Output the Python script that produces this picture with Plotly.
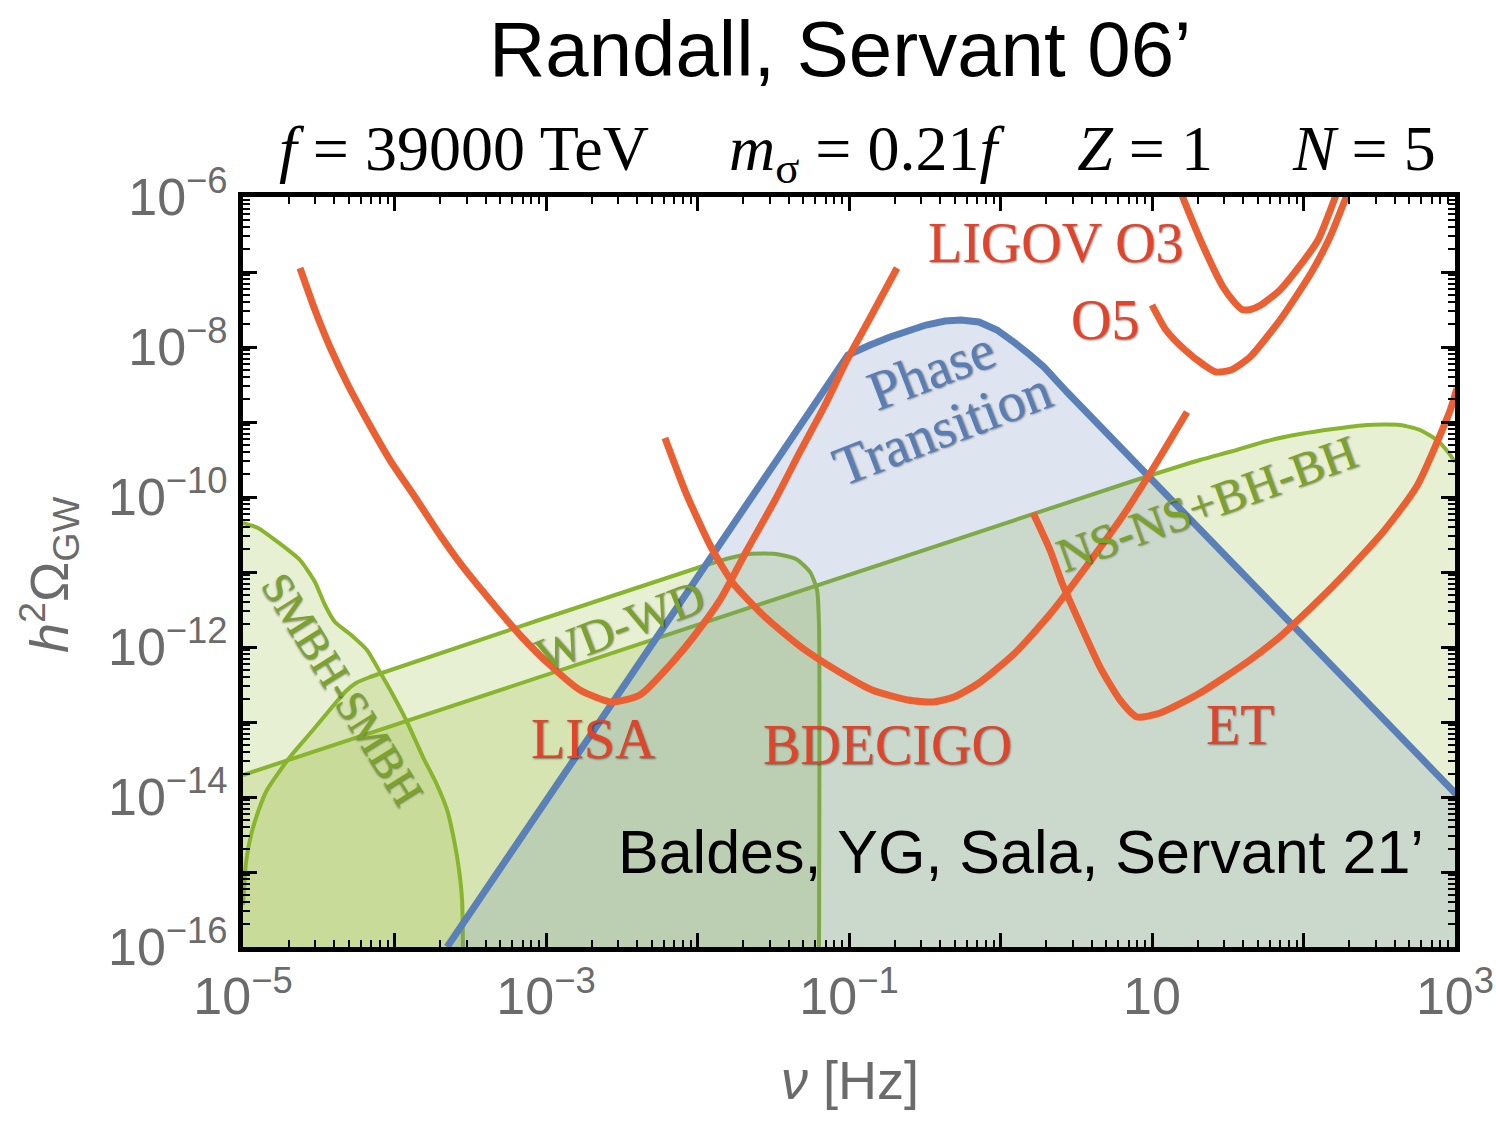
import numpy as np
import plotly.graph_objects as go

# ---------------------------------------------------------------------------
# Curves, given as log10(frequency / Hz) and log10(h^2 Omega_GW)
# ---------------------------------------------------------------------------

# Detector power-law sensitivity curves
lisa_log10_f = [-4.624, -4.525, -4.426, -4.307, -4.175, -4.030, -3.865, -3.700,
                -3.548, -3.370, -3.172, -2.974, -2.776, -2.564, -2.380, -2.182,
                -2.017, -1.851, -1.673, -1.488, -1.317, -1.158, -1.013, -0.861, -0.683]
lisa_log10_omega = [-6.947, -7.507, -8.0, -8.507, -9.0, -9.507, -10.0, -10.507,
                    -10.933, -11.373, -11.84, -12.24, -12.573, -12.733, -12.64, -12.24,
                    -11.84, -11.373, -10.707, -10.04, -9.373, -8.773, -8.173, -7.613, -6.947]

bdecigo_log10_f = [-2.215, -2.076, -1.911, -1.766, -1.554, -1.317, -1.086, -0.848,
                   -0.611, -0.446, -0.307, -0.142, 0.096, 0.333, 0.564, 0.802,
                   1.013, 1.231]
bdecigo_log10_omega = [-9.213, -9.947, -10.667, -11.147, -11.60, -12.0, -12.307, -12.573,
                       -12.707, -12.733, -12.667, -12.48, -12.08, -11.547, -10.933, -10.267,
                       -9.60, -8.867]

et_log10_f = [0.215, 0.327, 0.406, 0.505, 0.657, 0.789, 0.901, 1.053, 1.317,
              1.647, 1.865, 2.195, 2.525, 2.749, 2.967, 3.013]
et_log10_omega = [-10.213, -10.707, -11.147, -11.60, -12.267, -12.707, -12.933, -12.88, -12.613,
                  -12.173, -11.827, -11.187, -10.467, -9.853, -8.85, -8.55]

ligo_o3_log10_f = [1.185, 1.218, 1.343, 1.469, 1.548, 1.594, 1.650, 1.719, 1.845,
                   1.970, 2.096, 2.195, 2.241]
ligo_o3_log10_omega = [-5.907, -6.08, -6.68, -7.20, -7.413, -7.50, -7.50, -7.44, -7.24,
                       -6.933, -6.573, -6.08, -5.84]

ligo_o5_log10_f = [1.0, 1.092, 1.218, 1.343, 1.422, 1.521, 1.647, 1.845, 2.050,
                   2.175, 2.274, 2.294]
ligo_o5_log10_omega = [-7.44, -7.773, -8.04, -8.24, -8.333, -8.307, -8.133, -7.64, -7.013,
                       -6.533, -6.04, -5.947]

# Phase-transition signal
pt_log10_f = [-3.653, -1.007, -0.861, -0.729, -0.492, -0.366, -0.261, -0.142, -0.023,
              0.036, 0.096, 0.195, 0.287, 0.439, 3.013]
pt_log10_omega = [-16.0, -8.107, -7.973, -7.867, -7.707, -7.653, -7.64, -7.667, -7.773,
                  -7.853, -7.947, -8.107, -8.267, -8.60, -13.973]

# Astrophysical foregrounds (upper boundaries of the shaded regions)
ns_log10_f = [-5.0, 0.875, 1.317, 1.535, 1.759, 1.977, 2.195, 2.419, 2.637,
              2.769, 2.881, 2.954, 3.0]
ns_log10_omega = [-13.707, -9.787, -9.507, -9.387, -9.253, -9.16, -9.093, -9.04, -9.04,
                  -9.107, -9.24, -9.40, -9.533]

wd_log10_f = [-5.0, -4.98, -4.947, -4.901, -4.842, -4.690, -4.538, -4.406, -4.320,
              -4.254, -4.162, -1.983, -1.785, -1.653, -1.482, -1.350, -1.257,
              -1.211, -1.198, -1.198]
wd_log10_omega = [-15.44, -14.867, -14.507, -14.20, -13.907, -13.467, -13.107, -12.787, -12.587,
                  -12.48, -12.40, -10.933, -10.813, -10.76, -10.76, -10.827, -11.0,
                  -11.24, -11.707, -16.0]

smbh_log10_f = [-5.0, -4.901, -4.789, -4.624, -4.525, -4.459, -4.393, -4.294, -4.182,
                -4.096, -4.010, -3.917, -3.812, -3.719, -3.653, -3.607, -3.574,
                -3.554, -3.548]
smbh_log10_omega = [-10.347, -10.413, -10.573, -10.84, -11.133, -11.44, -11.667, -11.827, -12.04,
                    -12.333, -12.64, -13.0, -13.467, -13.84, -14.173, -14.573, -14.973,
                    -15.373, -16.0]

# Axis decades: labelled ones and the unlabelled ones in between
x_label_decades = [-5, -3, -1, 1, 3]
x_ticktext = ["10<sup>\u22125</sup>", "10<sup>\u22123</sup>", "10<sup>\u22121</sup>",
              "10", "10<sup>3</sup>"]
x_other_decades = [-4, -2, 0, 2]
y_label_decades = [-16, -14, -12, -10, -8, -6]
y_ticktext = ["10<sup>\u221216</sup>", "10<sup>\u221214</sup>", "10<sup>\u221212</sup>",
              "10<sup>\u221210</sup>", "10<sup>\u22128</sup>", "10<sup>\u22126</sup>"]
y_other_decades = [-15, -13, -11, -9, -7]

# ---------------------------------------------------------------------------
ORANGE = "#eb6032"
BLUE = "#5b80b8"
GREEN = "#89b42e"
GREEN_FILL = "rgba(150,185,60,0.22)"
BLUE_FILL = "rgba(90,125,180,0.20)"
FLOOR = 1e-18
SERIF = "Liberation Serif, Times New Roman, serif"
SANS = "Liberation Sans, Arial, sans-serif"
X_RANGE = [-5, 3]
Y_RANGE = [-16, -6]


def to_lin(vals):
    return [10.0 ** v for v in vals]


fig = go.Figure()


def add_region(logf, logo, fillcolor, shape):
    x = to_lin(logf)
    y = to_lin(logo)
    # shaded area down to the bottom of the frame
    fig.add_trace(go.Scatter(
        x=x + [x[-1], x[0]], y=y + [FLOOR, FLOOR],
        mode="lines", fill="toself", fillcolor=fillcolor,
        line=dict(width=0, shape=shape), hoverinfo="skip", showlegend=False))
    return x, y


def add_line(x, y, color, width, shape="spline", smoothing=1.0):
    line = dict(color=color, width=width, shape=shape)
    if shape == "spline":
        line["smoothing"] = smoothing
    fig.add_trace(go.Scatter(x=x, y=y, mode="lines", line=line,
                             hoverinfo="skip", showlegend=False))


# foreground regions
regions = []
for lf, lo in [(ns_log10_f, ns_log10_omega),
               (wd_log10_f, wd_log10_omega),
               (smbh_log10_f, smbh_log10_omega)]:
    regions.append(add_region(lf, lo, GREEN_FILL, "spline"))
for x, y in regions:
    add_line(x, y, GREEN, 4, "spline", 0.6)

# phase-transition signal
pt_x, pt_y = add_region(pt_log10_f, pt_log10_omega, BLUE_FILL, "linear")
add_line(pt_x, pt_y, BLUE, 7, "linear")

# detector curves
for lf, lo in [(lisa_log10_f, lisa_log10_omega),
               (bdecigo_log10_f, bdecigo_log10_omega),
               (et_log10_f, et_log10_omega),
               (ligo_o3_log10_f, ligo_o3_log10_omega),
               (ligo_o5_log10_f, ligo_o5_log10_omega)]:
    add_line(to_lin(lf), to_lin(lo), ORANGE, 7, "spline", 0.6)

# empty trace that carries the secondary (unlabelled decade) axes
fig.add_trace(go.Scatter(x=[], y=[], xaxis="x2", yaxis="y2", mode="lines",
                         hoverinfo="skip", showlegend=False))

# ---------------------------------------------------------------------------
shadow_dark = "1px 1px 2px rgba(0,0,0,0.45)"


def label(text, x, y, size, color, angle=0, family=SERIF, shadow="none"):
    fig.add_annotation(text=text, x=x, y=y, xref="paper", yref="paper",
                       xanchor="center", yanchor="middle", showarrow=False,
                       textangle=angle,
                       font=dict(family=family, size=size, color=color, shadow=shadow))


RED_TXT = "#e0442a"
label("LIGOV O3", 0.671, 0.939, 56, RED_TXT, shadow=shadow_dark)
label("O5", 0.711, 0.836, 56, RED_TXT, shadow=shadow_dark)
label("LISA", 0.289, 0.277, 56, RED_TXT, shadow=shadow_dark)
label("BDECIGO", 0.532, 0.269, 56, RED_TXT, shadow=shadow_dark)
label("ET", 0.823, 0.296, 56, RED_TXT, shadow=shadow_dark)

BLUE_TXT = "#5a7db4"
label("Phase", 0.568, 0.769, 56, BLUE_TXT, angle=-21, shadow=shadow_dark)
label("Transition", 0.577, 0.692, 56, BLUE_TXT, angle=-21, shadow=shadow_dark)

GREEN_TXT = "#7ba22c"
label("WD-WD", 0.311, 0.429, 48, GREEN_TXT, angle=-21, shadow=shadow_dark)
label("NS-NS+BH-BH", 0.795, 0.592, 48, GREEN_TXT, angle=-20, shadow=shadow_dark)
label("SMBH-SMBH", 0.082, 0.343, 44, GREEN_TXT, angle=58, shadow=shadow_dark)

label("Baldes, YG, Sala, Servant 21\u2019", 0.642, 0.127, 61, "black", family=SANS)
label("Randall, Servant 06\u2019", 0.4926, 1.198, 78, "black", family=SANS)

nb = "\u00a0"
eq = nb + "=" + nb
gap = nb * 5
sub = (f"<i>f</i>{eq}39000 TeV{gap}<i>m</i><sub>\u03c3</sub>{eq}0.21<i>f</i>{gap}"
       f"<i>Z</i>{eq}1{gap}<i>N</i>{eq}5")
label(sub, 0.507, 1.058, 64, "black")

label("<i>h</i><sup>2</sup>\u03a9<sub>GW</sub>", -0.160, 0.496, 54, "#6b6b6b",
      angle=-90, family=SANS)
label("<i>\u03bd</i> [Hz]", 0.501, -0.177, 54, "#6b6b6b", family=SANS)

# ---------------------------------------------------------------------------
minor_x = [m * 10.0 ** d for d in range(X_RANGE[0], X_RANGE[1]) for m in range(2, 10)]
minor_y = [m * 10.0 ** d for d in range(Y_RANGE[0], Y_RANGE[1]) for m in range(2, 10)]

axis_common = dict(
    type="log", showgrid=False, zeroline=False, automargin=False,
    showline=True, linecolor="black", linewidth=5, mirror="allticks",
    ticks="inside", ticklen=14, tickwidth=3, tickcolor="black",
    tickfont=dict(family=SANS, size=52, color="#6b6b6b"),
)
minor_common = dict(tickmode="array", ticks="inside", ticklen=7, tickwidth=2,
                    tickcolor="black")

fig.update_layout(
    xaxis=dict(range=X_RANGE, tickmode="array",
               tickvals=[10.0 ** d for d in x_label_decades], ticktext=x_ticktext,
               minor=dict(tickvals=minor_x, **minor_common), **axis_common),
    yaxis=dict(range=Y_RANGE, tickmode="array",
               tickvals=[10.0 ** d for d in y_label_decades], ticktext=y_ticktext,
               minor=dict(tickvals=minor_y, **minor_common), **axis_common),
    xaxis2=dict(type="log", range=X_RANGE, overlaying="x", side="bottom", anchor="y2",
                tickmode="array", tickvals=[10.0 ** d for d in x_other_decades],
                showticklabels=False, ticks="inside", ticklen=14, tickwidth=3,
                tickcolor="black", mirror="allticks", showline=False,
                showgrid=False, zeroline=False, automargin=False),
    yaxis2=dict(type="log", range=Y_RANGE, overlaying="y", side="left", anchor="x2",
                tickmode="array", tickvals=[10.0 ** d for d in y_other_decades],
                showticklabels=False, ticks="inside", ticklen=14, tickwidth=3,
                tickcolor="black", mirror="allticks", showline=False,
                showgrid=False, zeroline=False, automargin=False),
    width=1496, height=1125,
    margin=dict(l=243, r=41, t=197, b=178),
    paper_bgcolor="white", plot_bgcolor="white",
    showlegend=False,
)

fig.write_html("out.html")
